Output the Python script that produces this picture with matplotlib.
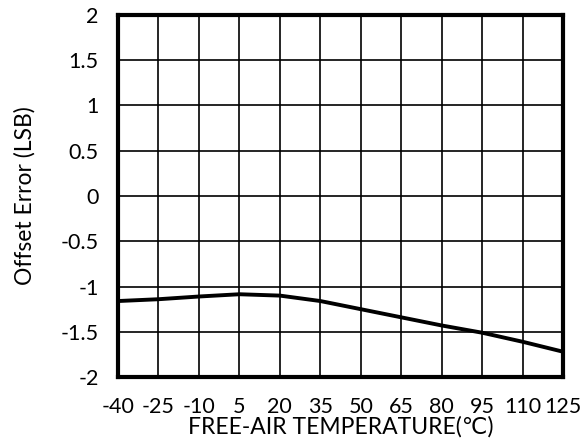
import numpy as np
import matplotlib.pyplot as plt

plt.rcParams['font.family'] = ['Lato', 'DejaVu Sans']
plt.rcParams['axes.unicode_minus'] = False

temp = [-40, -25, -10, 5, 20, 35, 50, 65, 80, 95, 110, 125]
offset_err = [-1.16, -1.14, -1.11, -1.085, -1.10, -1.16, -1.25, -1.34, -1.43, -1.51, -1.61, -1.72]

xticks = list(range(-40, 126, 15))
yticks = [-2, -1.5, -1, -0.5, 0, 0.5, 1, 1.5, 2]
ytick_labels = ['-2', '-1.5', '-1', '-0.5', '0', '0.5', '1', '1.5', '2']

fig = plt.figure(figsize=(5.88, 4.4), dpi=100)
ax = fig.add_axes([0.2007, 0.143, 0.757, 0.823])

ax.plot(temp, offset_err, color='black', lw=2.8, zorder=3, solid_joinstyle='round')

ax.set_xlim(-40, 125)
ax.set_ylim(-2, 2)
ax.set_xticks(xticks)
ax.set_yticks(yticks)
ax.set_yticklabels(ytick_labels)
ax.grid(True, color='black', lw=1.2)
ax.tick_params(length=0, labelsize=15.5)
ax.tick_params(axis='x', pad=14)
ax.tick_params(axis='y', pad=14)
for s in ax.spines.values():
    s.set_linewidth(3)
ax.set_xlabel('FREE-AIR TEMPERATURE(℃)', fontsize=16.5, labelpad=0)
ax.set_ylabel('Offset Error (LSB)', fontsize=16.5, labelpad=18)

fig.savefig('out.png', dpi=100)
